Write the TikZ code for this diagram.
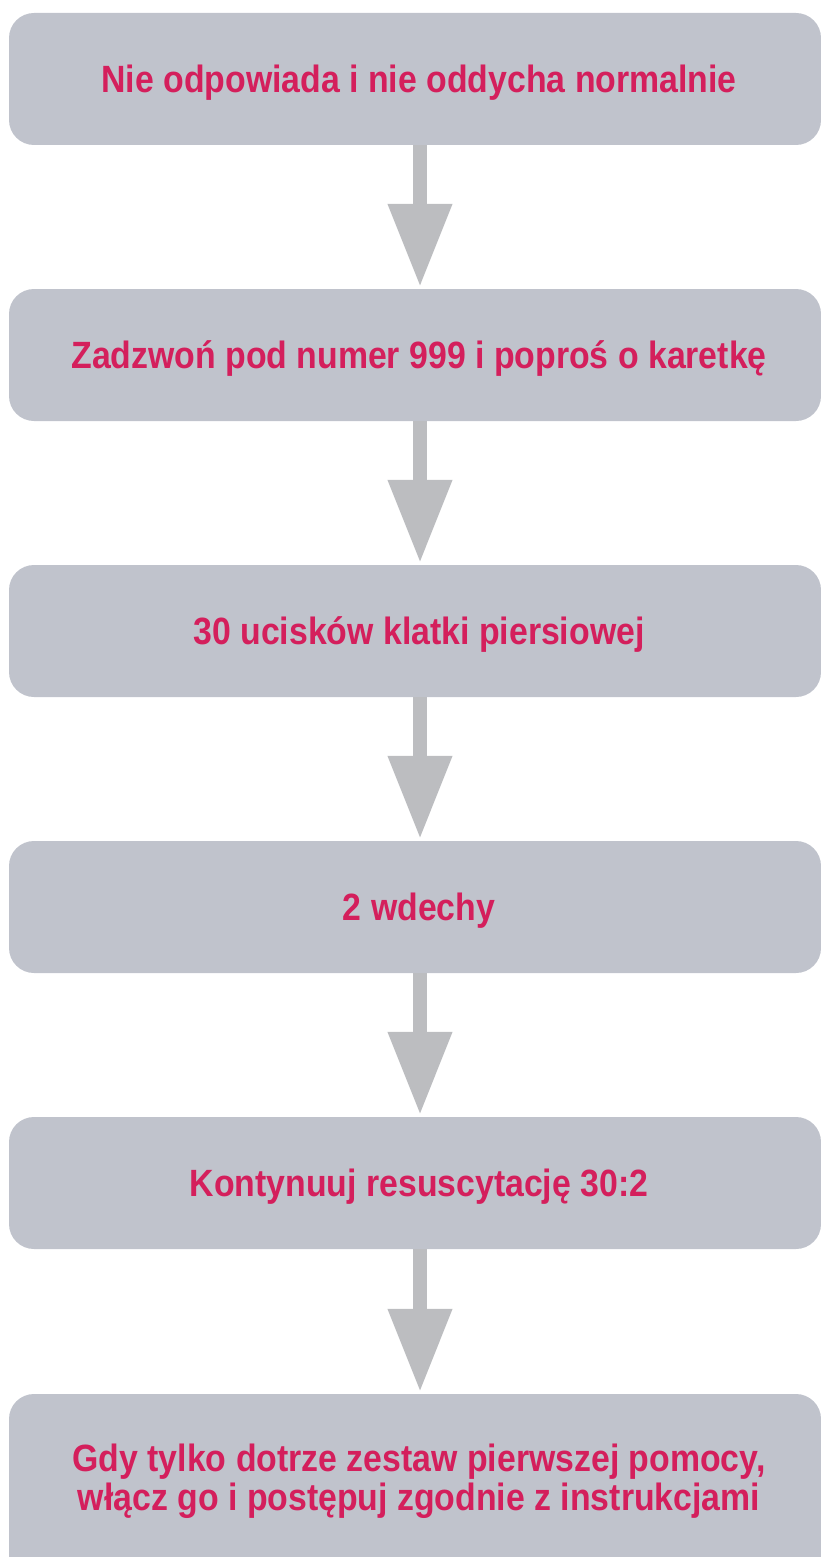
\documentclass[tikz,border=0pt]{standalone}
\usepackage{fontspec}
\setmainfont{Liberation Sans}[FakeStretch=0.89]
\usetikzlibrary{arrows.meta}

\definecolor{boxgray}{HTML}{C0C3CC}
\definecolor{arrowgray}{HTML}{BCBDC0}
\definecolor{steptext}{HTML}{D41F5C}

\tikzset{
  stepbox/.style={fill=boxgray, rounded corners=25pt, minimum width=812pt,
    minimum height=132pt, inner sep=0pt, text=steptext, align=center,
    font=\bfseries\fontsize{38}{39}\selectfont, text height=27pt, text depth=0pt},
  flowarrow/.style={draw=arrowgray, line width=14pt,
    -{Triangle[width=61pt, length=83pt, fill=arrowgray]}}
}

\begin{document}
\begin{tikzpicture}[x=1pt, y=-1pt]
 	\def\stepGap{276} % distance between boxes
 	\def\midX{415} % centre of the boxes
 	
 	\useasboundingbox (0,0) rectangle (821,1557);
 	\clip (0,0) rectangle (821,1557);
 	
 	% Draw the boxes
 	\foreach \i/\txt in {1/{Nie odpowiada i nie oddycha normalnie},
 		2/{Zadzwoń pod numer 999 i poproś o karetkę},
 		3/{30 ucisków klatki piersiowej},
 		4/{2 wdechy},
 		5/{Kontynuuj resuscytację 30:2}} {
 		\node[stepbox] (b\i) at (\midX, {79 + (\i - 1) * \stepGap}) {\hspace*{8pt}\txt};
 	}
 	
 	% Last box is taller and cut by the page
 	\node[stepbox, minimum height=206pt] (b6) at (\midX, 1497)
 		{\hspace*{8pt}Gdy tylko dotrze zestaw pierwszej pomocy,\\\hspace*{8pt}włącz go i postępuj zgodnie z instrukcjami};
 	
 	% Arrows between the boxes
 	\foreach \i in {1, 2, ..., 5} {
 		\pgfmathtruncatemacro{\j}{\i + 1}
 		\draw[flowarrow] ([xshift=5pt]b\i.south) -- ([xshift=5pt, yshift=2pt]b\j.north);
 	}
\end{tikzpicture}
\end{document}
